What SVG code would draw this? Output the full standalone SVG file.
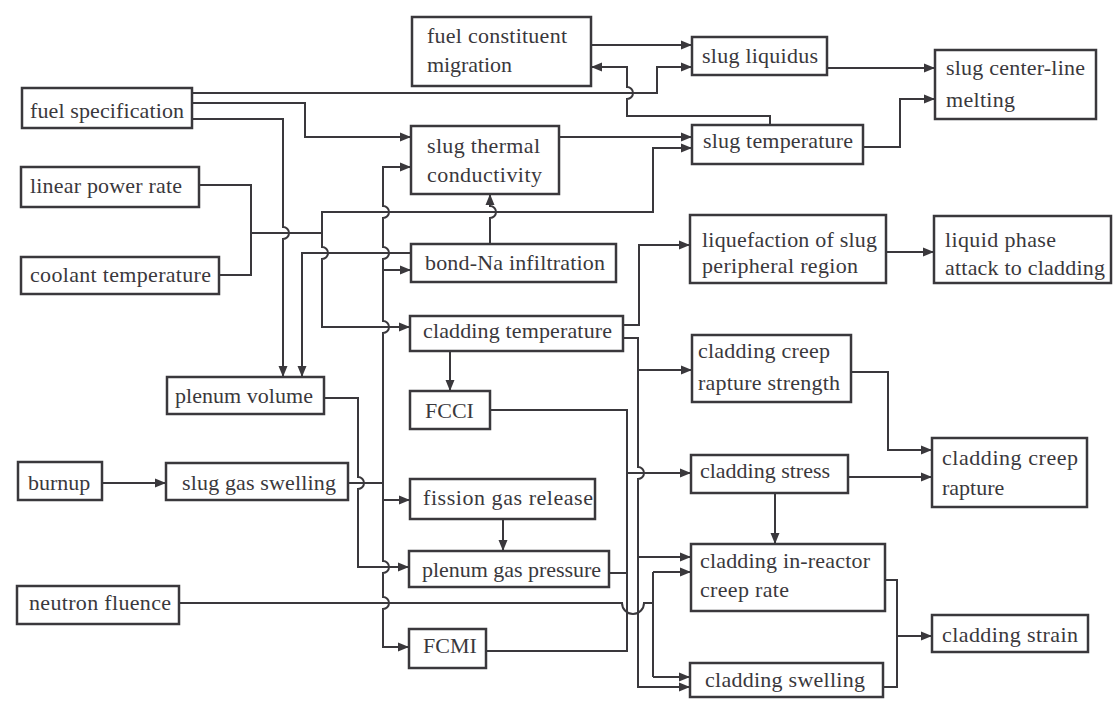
<svg xmlns="http://www.w3.org/2000/svg" width="1115" height="701" viewBox="0 0 1115 701">
<style>
.b{fill:#fff;stroke:#3a383c;stroke-width:2.5}
.t{font-family:"Liberation Serif","Times New Roman",serif;font-size:22px;fill:#3a383c}
.c{fill:none;stroke:#3a383c;stroke-width:2}
.a{marker-end:url(#ah)}
</style>
<defs>
<marker id="ah" markerUnits="userSpaceOnUse" markerWidth="12" markerHeight="10" refX="11" refY="5" orient="auto"><path d="M0,0.5 L11,5 L0,9.5 z" fill="#3a383c"/></marker>
</defs>
<rect width="1115" height="701" fill="#fff"/>
<g id="connectors">
<path class="c a" d="M192,93 H657 V67 H692"/>
<path class="c a" d="M192,103 H305 V137 H411"/>
<path class="c a" d="M192,119 H283 V227 a6,6 0 0,1 0,12 V377"/>
<path class="c" d="M199,185 H251 V275 H219"/>
<path class="c a" d="M251,233 H322 V212 H653 V148 H692"/>
<path class="c a" d="M322,212 V247 a6,6 0 0,1 0,12 V327 H410"/>
<path class="c a" d="M559,137 H692"/>
<path class="c a" d="M827,68 H935"/>
<path class="c a" d="M863,147 H900 V99 H935"/>
<path class="c a" d="M591,45 H692"/>
<path class="c a" d="M770,125 V116 H627 V99 a6,6 0 0,0 0,-12 V67 H591"/>
<path class="c a" d="M490,244 V218 a6,6 0 0,0 0,-12 V194"/>
<path class="c a" d="M411,253 H302 V377"/>
<path class="c" d="M348,483 H383"/>
<path class="c a" d="M383,483 V333 a6,6 0 0,0 0,-12 V259 a6,6 0 0,0 0,-12 V218 a6,6 0 0,0 0,-12 V167 H411"/>
<path class="c a" d="M383,270 H411"/>
<path class="c a" d="M383,483 V561 a6,6 0 0,1 0,12 V597 a6,6 0 0,1 0,12 V647 H409"/>
<path class="c a" d="M383,500 H410"/>
<path class="c a" d="M324,398 H358 V477 a6,6 0 0,1 0,12 V567 H409"/>
<path class="c a" d="M503,519 V551"/>
<path class="c a" d="M450,351 V391"/>
<path class="c a" d="M623,325 H639 V245 H690"/>
<path class="c a" d="M623,338 H638 V467 a6,6 0 0,1 0,12 V687 H690"/>
<path class="c a" d="M638,370 H692"/>
<path class="c a" d="M638,557 H691"/>
<path class="c" d="M490,410 H627 V651 H486"/>
<path class="c" d="M609,573 H627"/>
<path class="c a" d="M627,473 H691"/>
<path class="c" d="M179,603 H622 a11,11 0 0,0 22,0 H653"/>
<path class="c" d="M653,572 V677"/>
<path class="c a" d="M653,572 H691"/>
<path class="c a" d="M653,677 H690"/>
<path class="c a" d="M886,252 H934"/>
<path class="c a" d="M851,372 H888 V450 H932"/>
<path class="c a" d="M848,477 H932"/>
<path class="c a" d="M775,493 V544"/>
<path class="c" d="M885,580 H897 V687 H883"/>
<path class="c a" d="M897,636 H932"/>
<path class="c a" d="M102,483 H166"/>
</g>
<g id="fuel-specification"><rect class="b" x="22" y="88" width="170" height="40"/><text class="t" x="30" y="118" textLength="154" lengthAdjust="spacing">fuel specification</text></g>
<g id="linear-power-rate"><rect class="b" x="21" y="167" width="178" height="40"/><text class="t" x="30" y="193" textLength="152" lengthAdjust="spacing">linear power rate</text></g>
<g id="coolant-temperature"><rect class="b" x="21" y="257" width="198" height="37"/><text class="t" x="30" y="282" textLength="181" lengthAdjust="spacing">coolant temperature</text></g>
<g id="plenum-volume"><rect class="b" x="167" y="377" width="157" height="37"/><text class="t" x="175" y="403" textLength="138" lengthAdjust="spacing">plenum volume</text></g>
<g id="burnup"><rect class="b" x="18" y="462" width="84" height="38"/><text class="t" x="28" y="490">burnup</text></g>
<g id="slug-gas-swelling"><rect class="b" x="166" y="463" width="182" height="37"/><text class="t" x="182" y="490" textLength="154" lengthAdjust="spacing">slug gas swelling</text></g>
<g id="neutron-fluence"><rect class="b" x="17" y="586" width="162" height="38"/><text class="t" x="29" y="610" textLength="142" lengthAdjust="spacing">neutron fluence</text></g>
<g id="fuel-constituent-migration"><rect class="b" x="412" y="17" width="179" height="69"/><text class="t" x="427" y="43" textLength="140" lengthAdjust="spacing">fuel constituent</text><text class="t" x="427" y="72" textLength="85" lengthAdjust="spacing">migration</text></g>
<g id="slug-liquidus"><rect class="b" x="692" y="37" width="135" height="38"/><text class="t" x="702" y="63" textLength="116" lengthAdjust="spacing">slug liquidus</text></g>
<g id="slug-center-line-melting"><rect class="b" x="935" y="50" width="161" height="69"/><text class="t" x="946" y="75" textLength="139" lengthAdjust="spacing">slug center-line</text><text class="t" x="946" y="107" textLength="69" lengthAdjust="spacing">melting</text></g>
<g id="slug-thermal-conductivity"><rect class="b" x="411" y="126" width="148" height="68"/><text class="t" x="427" y="153" textLength="113" lengthAdjust="spacing">slug thermal</text><text class="t" x="427" y="182" textLength="115" lengthAdjust="spacing">conductivity</text></g>
<g id="slug-temperature"><rect class="b" x="692" y="125" width="171" height="39"/><text class="t" x="703" y="148" textLength="150" lengthAdjust="spacing">slug temperature</text></g>
<g id="bond-na-infiltration"><rect class="b" x="411" y="244" width="205" height="38"/><text class="t" x="425" y="270" textLength="180" lengthAdjust="spacing">bond-Na infiltration</text></g>
<g id="cladding-temperature"><rect class="b" x="410" y="316" width="213" height="35"/><text class="t" x="423" y="338" textLength="189" lengthAdjust="spacing">cladding temperature</text></g>
<g id="fcci"><rect class="b" x="410" y="391" width="80" height="38"/><text class="t" x="425" y="418">FCCI</text></g>
<g id="liquefaction"><rect class="b" x="690" y="215" width="196" height="68"/><text class="t" x="702" y="247" textLength="175" lengthAdjust="spacing">liquefaction of slug</text><text class="t" x="702" y="273" textLength="156" lengthAdjust="spacing">peripheral region</text></g>
<g id="liquid-phase-attack"><rect class="b" x="934" y="216" width="177" height="67"/><text class="t" x="945" y="247" textLength="111" lengthAdjust="spacing">liquid phase</text><text class="t" x="945" y="275" textLength="160" lengthAdjust="spacing">attack to cladding</text></g>
<g id="cladding-creep-rapture-strength"><rect class="b" x="692" y="335" width="159" height="67"/><text class="t" x="698" y="358" textLength="132" lengthAdjust="spacing">cladding creep</text><text class="t" x="698" y="390" textLength="142" lengthAdjust="spacing">rapture strength</text></g>
<g id="cladding-creep-rapture"><rect class="b" x="932" y="438" width="155" height="69"/><text class="t" x="942" y="465" textLength="136" lengthAdjust="spacing">cladding creep</text><text class="t" x="942" y="495">rapture</text></g>
<g id="cladding-stress"><rect class="b" x="691" y="455" width="157" height="38"/><text class="t" x="700" y="478" textLength="130" lengthAdjust="spacing">cladding stress</text></g>
<g id="fission-gas-release"><rect class="b" x="410" y="479" width="185" height="40"/><text class="t" x="423" y="505" textLength="170" lengthAdjust="spacing">fission gas release</text></g>
<g id="plenum-gas-pressure"><rect class="b" x="409" y="551" width="200" height="36"/><text class="t" x="422" y="577" textLength="179" lengthAdjust="spacing">plenum gas pressure</text></g>
<g id="fcmi"><rect class="b" x="409" y="629" width="77" height="39"/><text class="t" x="423" y="653">FCMI</text></g>
<g id="cladding-in-reactor-creep-rate"><rect class="b" x="691" y="544" width="194" height="67"/><text class="t" x="700" y="568" textLength="170" lengthAdjust="spacing">cladding in-reactor</text><text class="t" x="700" y="597" textLength="89" lengthAdjust="spacing">creep rate</text></g>
<g id="cladding-swelling"><rect class="b" x="690" y="663" width="193" height="34"/><text class="t" x="705" y="687" textLength="160" lengthAdjust="spacing">cladding swelling</text></g>
<g id="cladding-strain"><rect class="b" x="932" y="615" width="156" height="37"/><text class="t" x="942" y="642" textLength="136" lengthAdjust="spacing">cladding strain</text></g>
</svg>
